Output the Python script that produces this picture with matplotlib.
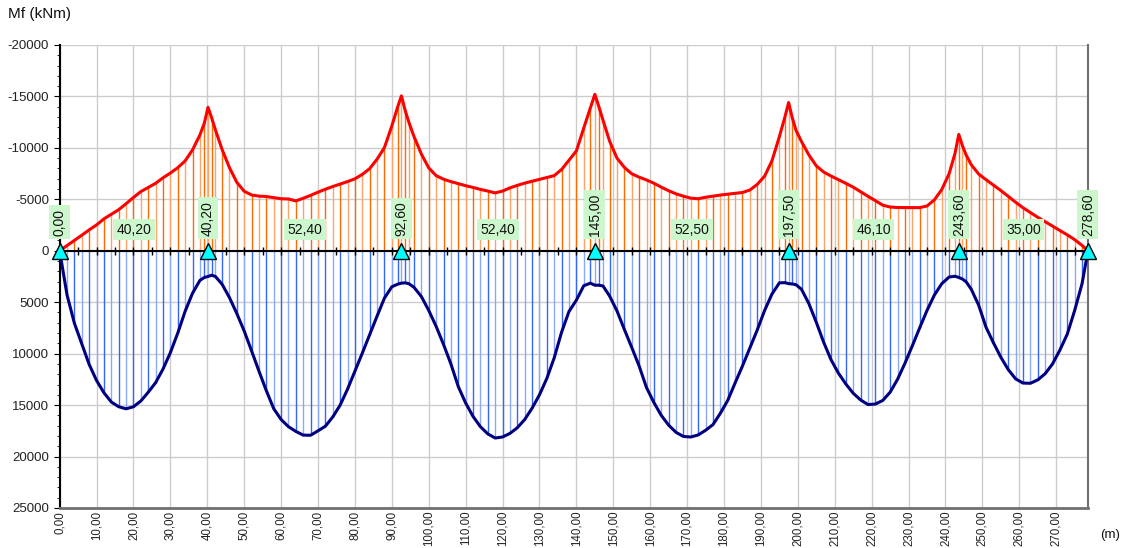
import matplotlib
matplotlib.use("Agg")
import matplotlib.pyplot as plt
from matplotlib.ticker import MultipleLocator
import numpy as np

plt.rcParams["font.family"] = ["Liberation Sans", "DejaVu Sans"]

# supports and span lengths (m)
supports = [0.0, 40.2, 92.6, 145.0, 197.5, 243.6, 278.6]
span_lengths = [40.2, 52.4, 52.4, 52.5, 46.1, 35.0]

# sections along the beam (m), per span
x_span1 = [0, 2, 4, 6, 8, 10, 12, 14, 16, 18, 20, 22, 24, 26, 28, 30, 32, 34, 36, 38, 39.2, 40.2]
x_span2 = [41.2, 42.2, 44, 46, 48, 50, 52, 54, 56, 58, 60, 62, 64, 66, 68, 70, 72, 74, 76, 78,
           80, 82, 84, 86, 88, 90, 91.6, 92.6]
x_span3 = [93.6, 94.6, 96, 98, 100, 102, 104, 106, 108, 110, 112, 114, 116, 118, 120, 122, 124,
           126, 128, 130, 132, 134, 136, 138, 140, 142, 143.8, 145]
x_span4 = [146, 147.2, 149, 151, 153, 155, 157, 159, 161, 163, 165, 167, 169, 171, 173, 175, 177,
           179, 181, 183, 185, 187, 189, 191, 193, 195, 196.5, 197.5]
x_span5 = [198.5, 199.5, 201, 203, 205, 207, 209, 211, 213, 215, 217, 219, 221, 223, 225, 227,
           229, 231, 233, 235, 237, 239, 241, 242.6, 243.6]
x_span6 = [244.6, 245.6, 247, 249, 251, 253, 255, 257, 259, 261, 263, 265, 267, 269, 271, 273,
           275, 277, 278.6]

# hogging envelope (kNm, negative)
hog_span1 = [0, -500, -1010, -1510, -2030, -2510, -3100, -3550, -3990, -4570, -5180, -5750,
             -6150, -6550, -7090, -7550, -8070, -8730, -9800, -11250, -12400, -13940]
hog_span2 = [-12900, -11750, -9850, -8080, -6650, -5780, -5420, -5310, -5270, -5160, -5050,
             -5030, -4840, -5100, -5380, -5690, -5980, -6240, -6480, -6720, -6990, -7420,
             -7980, -8900, -10030, -12130, -14000, -15050]
hog_span3 = [-13650, -12500, -11100, -9400, -8050, -7300, -6950, -6720, -6520, -6320, -6150,
             -5960, -5800, -5620, -5800, -6110, -6350, -6570, -6750, -6930, -7100, -7300,
             -7900, -8800, -9700, -11930, -13880, -15200]
hog_span4 = [-14100, -12700, -10650, -9000, -8100, -7480, -7150, -6880, -6560, -6180, -5830,
             -5530, -5300, -5110, -5050, -5200, -5310, -5410, -5500, -5580, -5660, -5900,
             -6450, -7250, -8750, -11100, -13000, -14400]
hog_span5 = [-12900, -11700, -10600, -9300, -8250, -7650, -7260, -6910, -6550, -6180, -5730,
             -5290, -4870, -4430, -4250, -4200, -4190, -4190, -4190, -4350, -4950, -5950,
             -7500, -9500, -11300]
hog_span6 = [-10200, -9300, -8350, -7450, -6900, -6380, -5850, -5290, -4710, -4180, -3720,
             -3250, -2820, -2380, -1950, -1540, -1080, -520, 0]

# sagging envelope (kNm, positive)
sag_span1 = [0, 4300, 7050, 9050, 11050, 12610, 13800, 14700, 15160, 15360, 15160, 14600,
             13750, 12820, 11500, 9900, 8000, 5880, 4130, 2880, 2600, 2500]
sag_span2 = [2380, 2500, 3250, 4550, 6100, 7800, 9730, 11700, 13600, 15350, 16400, 17100,
             17560, 17920, 17930, 17500, 17050, 16150, 15000, 13450, 11700, 9950, 8150, 6350,
             4600, 3500, 3250, 3150]
sag_span3 = [3120, 3200, 3550, 4450, 5800, 7350, 9100, 11000, 13200, 14800, 16100, 17100,
             17800, 18200, 18100, 17750, 17200, 16400, 15300, 14000, 12400, 10400, 7900, 5900,
             4800, 3400, 3150, 3350]
sag_span4 = [3350, 3420, 4400, 5850, 7650, 9400, 11200, 13300, 14750, 16000, 16950, 17650,
             18050, 18100, 17900, 17450, 16900, 15800, 14550, 12850, 11200, 9450, 7700, 5800,
             4200, 3120, 3100, 3200]
sag_span5 = [3230, 3300, 3750, 5150, 6950, 8900, 10600, 11900, 12950, 13850, 14500, 14950,
             14900, 14550, 13750, 12500, 10950, 9250, 7500, 5800, 4300, 3200, 2550, 2480, 2600]
sag_span6 = [2750, 3020, 3750, 5300, 7450, 8950, 10350, 11550, 12450, 12860, 12880, 12550,
             11950, 11000, 9650, 8100, 5800, 3200, 0]

x_sec = np.array(x_span1 + x_span2 + x_span3 + x_span4 + x_span5 + x_span6)
m_hog = np.array(hog_span1 + hog_span2 + hog_span3 + hog_span4 + hog_span5 + hog_span6)
m_sag = np.array(sag_span1 + sag_span2 + sag_span3 + sag_span4 + sag_span5 + sag_span6)


def fmt(v):
    return f"{v:.2f}".replace(".", ",")


fig = plt.figure(figsize=(11.34, 5.48), dpi=100)
ax = fig.add_axes([0.0526, 0.073, 0.9068, 0.845])

# stems, alternating shades like the original
hog_colors = ["#ff6a00" if i % 2 == 0 else "#ffa366" for i in range(len(x_sec))]
sag_colors = ["#3366ff" if i % 2 == 0 else "#8aa8ff" for i in range(len(x_sec))]
ax.vlines(x_sec, 0, m_hog, colors=hog_colors, lw=1.0, zorder=2)
ax.vlines(x_sec, 0, m_sag, colors=sag_colors, lw=1.0, zorder=2)

ax.plot(x_sec, m_hog, color="#ff0000", lw=2.2, zorder=4, solid_joinstyle="round")
ax.plot(x_sec, m_sag, color="#000080", lw=2.2, zorder=4, solid_joinstyle="round")

# zero line with 5 m ticks
tick5 = np.arange(0, 279, 5)
ax.axhline(0, color="black", lw=1.5, zorder=5)
ax.plot(tick5, np.zeros(len(tick5)), "|", color="black", ms=6, mew=1, zorder=5)

# supports
ax.plot(supports, [0] * len(supports), "^", ms=12, color="#00ffff", mec="black", mew=1,
        zorder=7, clip_on=False)
box = dict(boxstyle="square,pad=0.25", fc="#ccf7cc", ec="none")
for s in supports:
    ax.text(s, -1450, fmt(s), rotation=90, ha="center", va="bottom", fontsize=10,
            color="#111111", bbox=box, zorder=6)
for i, L in enumerate(span_lengths):
    mid = (supports[i] + supports[i + 1]) / 2
    ax.text(mid, -2050, fmt(L), ha="center", va="center", fontsize=10, color="#111111",
            bbox=box, zorder=6)

ax.set_xlim(0, 278.6)
ax.set_ylim(25000, -20000)
ax.yaxis.set_major_locator(MultipleLocator(5000))
ax.yaxis.set_minor_locator(MultipleLocator(1000))
xt = np.arange(0, 271, 10)
ax.set_xticks(xt)
ax.set_xticklabels([fmt(v) for v in xt], rotation=90, va="top", ha="center",
                   fontsize=8.3, color="#222222")
ax.tick_params(axis="x", length=0, pad=2)
ax.tick_params(axis="y", which="major", length=4, labelsize=9.5, labelcolor="#222222")
ax.tick_params(axis="y", which="minor", length=2.5)
ax.set_yticklabels([f"{int(v)}" for v in ax.get_yticks()])

ax.grid(True, color="#cccccc", lw=1)
ax.set_axisbelow(True)
ax.spines["top"].set_visible(False)
ax.spines["left"].set_color("black")
ax.spines["left"].set_linewidth(1.5)
ax.spines["bottom"].set_color("#707070")
ax.spines["bottom"].set_linewidth(2)
ax.spines["right"].set_color("#707070")
ax.spines["right"].set_linewidth(1.5)

fig.text(0.007, 0.974, "Mf (kNm)", fontsize=11, va="center", ha="left", color="#111111")
fig.text(0.979, 0.024, "(m)", fontsize=9.5, va="center", ha="center", color="#111111")

fig.savefig("out.png", dpi=100)
plt.close(fig)
